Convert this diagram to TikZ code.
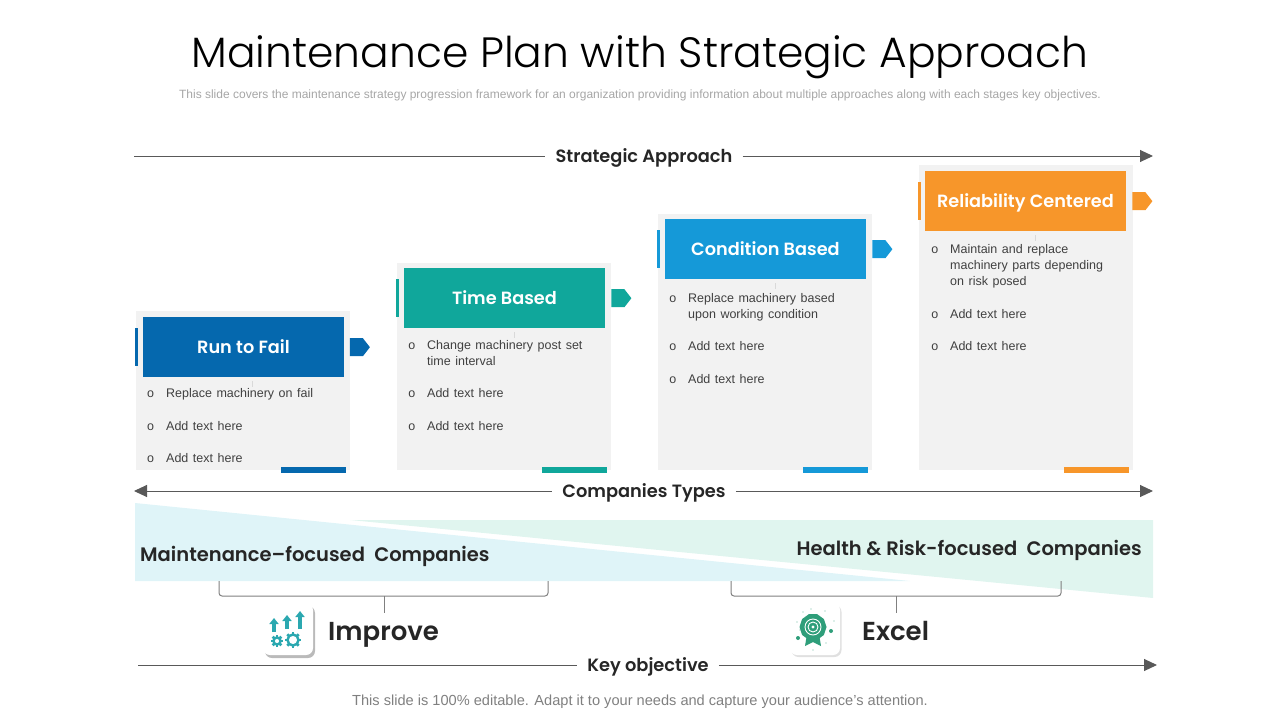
\documentclass[tikz,border=0pt]{standalone}
\usepackage{fontspec}
\setmainfont{Liberation Sans}
\newfontfamily\itemfont[WordSpace=1.3]{Liberation Sans}
\newfontfamily\headfont[BoldFont={Poppins SemiBold}]{Poppins Light}
\usetikzlibrary{positioning,arrows.meta,shapes.geometric,shadows}
\definecolor{runblue}{HTML}{0568AE}
\definecolor{timeteal}{HTML}{10A79B}
\definecolor{condblue}{HTML}{1599D8}
\definecolor{reliorange}{HTML}{F7962A}
\definecolor{panelgrey}{HTML}{F2F2F2}
\definecolor{bandblue}{HTML}{DFF4F8}
\definecolor{bandgreen}{HTML}{E0F5EF}
\definecolor{axisgrey}{HTML}{595959}
\definecolor{icongreen}{HTML}{2F9E7A}
\definecolor{iconteal}{HTML}{2BA8B0}
\newcommand{\bul}[1]{\strut\llap{o\hspace{12pt}}#1\strut}
\begin{document}
\begin{tikzpicture}[x=1pt,y=-1pt,
						panel/.style={fill=panelgrey,inner sep=0pt,minimum width=214pt,anchor=north west},
						headbox/.style={inner sep=0pt,minimum width=200.5pt,minimum height=60pt,text height=17pt,text depth=4pt,text=white,font=\headfont\bfseries\fontsize{17.7}{22}\selectfont},
						sidebar/.style={inner sep=0pt,minimum width=3pt,minimum height=38pt},
						tabbar/.style={inner sep=0pt,minimum width=65pt,minimum height=6pt},
						tick/.style={fill=black!15,inner sep=0pt,minimum width=1pt,minimum height=6pt},
						item/.style={inner sep=0pt,text width=165pt,align=flush left,text=black!75,font=\itemfont\fontsize{12.5}{16}\selectfont},
						axislabel/.style={fill=white,inner sep=0pt,inner xsep=10pt,anchor=base,text=black!85,font=\headfont\bfseries\fontsize{17.8}{22}\selectfont},
						axisline/.style={axisgrey,line width=1pt},
						axisarrow/.style={axisline,-{Triangle[length=13pt,width=12pt]}},
						bandtext/.style={inner sep=0pt,text=black!85,font=\headfont\bfseries\fontsize{19.5}{24}\selectfont},
						bracketline/.style={black!50,line width=1pt,rounded corners=3pt},
						objective/.style={inner sep=0pt,text=black!85,font=\headfont\bfseries\fontsize{26}{32}\selectfont},
						iconbox/.style={fill=white,rounded corners=7pt,inner sep=0pt,minimum width=50pt,minimum height=52pt},
						pointer/.pic={\path[pic actions] (0,-9) -- (13,-9) -- (20,0) -- (13,9) -- (0,9) -- cycle;},
						gear/.pic={\draw[iconteal,line width=2.4pt] (0,0) circle (#1);
							\foreach \a in {0,45,...,315} {\fill[iconteal,rotate=\a] (-1.4,#1) rectangle (1.4,#1+2.6);}},
						]
		\useasboundingbox (0,0) rectangle (1280,720);

		\node[anchor=base,font=\headfont\fontsize{42.4}{52}\selectfont]	(title)	at (640,67)	{Maintenance Plan with Strategic Approach};
		\node[text=black!35,font=\fontsize{12}{15}\selectfont]	(subtitle)	at (640,95)	{This slide covers the maintenance strategy progression framework for an organization providing information about multiple approaches along with each stages key objectives.};

		\coordinate (sa-start) at (134,156);
		\coordinate (sa-end) at (1153,156);
		\node[axislabel] (sa-label) at (644,162) {Strategic Approach};
		\draw[axisline] (sa-start) -- (sa-start -| sa-label.west);
		\draw[axisarrow] (sa-start -| sa-label.east) -- (sa-end);

		\node[panel,minimum height=159pt]	(panelA)	at (136,311)	{};
		\node[panel,minimum height=207pt]	(panelB)	at (397,263)	{};
		\node[panel,minimum height=256pt]	(panelC)	at (658,214)	{};
		\node[panel,minimum height=305pt]	(panelD)	at (919,165)	{};

		\node[headbox,fill=runblue,below right=6pt and 7pt of panelA.north west,anchor=north west]		(headA)	{Run to Fail};
		\node[headbox,fill=timeteal,below right=5pt and 7pt of panelB.north west,anchor=north west]		(headB)	{Time Based};
		\node[headbox,fill=condblue,below right=5pt and 7pt of panelC.north west,anchor=north west]		(headC)	{Condition Based};
		\node[headbox,fill=reliorange,below right=6pt and 6pt of panelD.north west,anchor=north west]	(headD)	{Reliability Centered};

		\node[sidebar,fill=runblue,left=4.5pt of headA]		(sideA)	{};
		\node[sidebar,fill=timeteal,left=4.5pt of headB]	(sideB)	{};
		\node[sidebar,fill=condblue,left=4.5pt of headC]	(sideC)	{};
		\node[sidebar,fill=reliorange,left=3.5pt of headD]	(sideD)	{};

		\pic[fill=runblue] at ([xshift=6pt]headA.east) {pointer};
		\pic[fill=timeteal] at ([xshift=6.5pt]headB.east) {pointer};
		\pic[fill=condblue] at ([xshift=6.5pt]headC.east) {pointer};
		\pic[fill=reliorange] at ([xshift=6.5pt]headD.east) {pointer};

		\node[tabbar,fill=runblue]		(tabA)	at ([xshift=-36.5pt]panelA.south east)	{};
		\node[tabbar,fill=timeteal]		(tabB)	at ([xshift=-36.5pt]panelB.south east)	{};
		\node[tabbar,fill=condblue]		(tabC)	at ([xshift=-36.5pt]panelC.south east)	{};
		\node[tabbar,fill=reliorange]	(tabD)	at ([xshift=-36.5pt]panelD.south east)	{};

		\node[tick,below=3pt of headA.south,xshift=9.5pt]	(tickA)	{};
		\node[tick,below=3pt of headB.south,xshift=10pt]	(tickB)	{};
		\node[tick,below=3pt of headC.south,xshift=10pt]	(tickC)	{};
		\node[tick,below=3pt of headD.south,xshift=10.5pt]	(tickD)	{};

		\node[item,below right=9pt and 23pt of headA.south west,anchor=north west]	(itemA1)	{\bul{Replace machinery on fail}};
		\node[item,below=16pt of itemA1.south west,anchor=north west]				(itemA2)	{\bul{Add text here}};
		\node[item,below=16pt of itemA2.south west,anchor=north west]				(itemA3)	{\bul{Add text here}};

		\node[item,below right=9.5pt and 23pt of headB.south west,anchor=north west]	(itemB1)	{\bul{Change machinery post set time interval}};
		\node[item,below=16pt of itemB1.south west,anchor=north west]				(itemB2)	{\bul{Add text here}};
		\node[item,below=16pt of itemB2.south west,anchor=north west]				(itemB3)	{\bul{Add text here}};

		\node[item,below right=11.5pt and 23pt of headC.south west,anchor=north west]	(itemC1)	{\bul{Replace machinery based upon working condition}};
		\node[item,below=16pt of itemC1.south west,anchor=north west]				(itemC2)	{\bul{Add text here}};
		\node[item,below=16pt of itemC2.south west,anchor=north west]				(itemC3)	{\bul{Add text here}};

		\node[item,below right=11pt and 25pt of headD.south west,anchor=north west]	(itemD1)	{\bul{Maintain and replace machinery parts depending on risk posed}};
		\node[item,below=16pt of itemD1.south west,anchor=north west]				(itemD2)	{\bul{Add text here}};
		\node[item,below=16pt of itemD2.south west,anchor=north west]				(itemD3)	{\bul{Add text here}};

		\coordinate (ct-start) at (134,491);
		\coordinate (ct-end) at (1153,491);
		\node[axislabel] (ct-label) at (644,497) {Companies Types};
		\draw[axisline,{Triangle[length=13pt,width=12pt]}-] (ct-start) -- (ct-start -| ct-label.west);
		\draw[axisarrow] (ct-start -| ct-label.east) -- (ct-end);

		\fill[bandgreen] (350,520) -- (1153,520) -- (1153,598) -- cycle;
		\fill[bandblue] (135,503) -- (910,581) -- (135,581) -- cycle;

		\node[bandtext,anchor=base west]	(maint)		at (140,561)	{Maintenance–focused\ \ Companies};
		\node[bandtext,anchor=base east]	(health)	at (1142,555)	{Health\ \& Risk-focused\ \ Companies};

		\node[objective,anchor=base west]	(improve)	at (328,640)	{Improve};
		\node[objective,anchor=base west]	(excel)		at (862,640)	{Excel};

		\coordinate (brA-left) at (219,581);
		\coordinate (brA-right) at (548,581);
		\coordinate (brA-mid) at (384,596);
		\coordinate (brB-left) at (731,581);
		\coordinate (brB-right) at (1061,581);
		\coordinate (brB-mid) at (896,596);
		\draw[bracketline] (brA-left) |- (brA-mid) -| (brA-right);
		\draw[bracketline] (brB-left) |- (brB-mid) -| (brB-right);
		\draw[black!50,line width=1pt] (brA-mid) -- ++(0,17);
		\draw[black!50,line width=1pt] (brB-mid) -- ++(0,17);

		\node[iconbox,drop shadow={shadow xshift=2pt,shadow yshift=-3pt,opacity=.45,fill=black!60}]	(iconA)	at (288,629)	{};
		\draw[iconteal,line width=3.4pt,-{Triangle[length=6pt,width=9pt]}] (274,632) -- (274,618);
		\draw[iconteal,line width=3.4pt,-{Triangle[length=6pt,width=9pt]}] (287,629) -- (287,615);
		\draw[iconteal,line width=3.4pt,-{Triangle[length=6pt,width=9pt]}] (300,629) -- (300,611);
		\pic at (277,641) {gear=3.5};
		\pic at (293,640) {gear=5.5};

		\node[iconbox,drop shadow={shadow xshift=1.5pt,shadow yshift=-2pt,opacity=.2,fill=black!60}]	(iconB)	at (815,629)	{};
		\fill[icongreen] (807,634) -- (805,646) -- (813,642) -- (821,646) -- (819,634) -- cycle;
		\node[regular polygon,regular polygon sides=10,fill=icongreen,inner sep=0pt,minimum size=27pt] (badge) at (813,627) {};
		\draw[white,line width=.9pt] (badge.center) circle (8);
		\draw[white,line width=.9pt] (badge.center) circle (5);
		\fill[white] (badge.center) circle (1.6);
		\fill[icongreen] (798,638) circle (2);
		\fill[icongreen] (831,631) circle (2);
		\foreach \dotx/\doty in {797/622,803/612,811/609,825/611,834/621,826/643,813/650,800/630} {
			\fill[icongreen!70] (\dotx,\doty) circle (.6);
		}

		\coordinate (ko-start) at (138,665);
		\coordinate (ko-end) at (1157,665);
		\node[axislabel] (ko-label) at (648,671) {Key objective};
		\draw[axisline] (ko-start) -- (ko-start -| ko-label.west);
		\draw[axisarrow] (ko-start -| ko-label.east) -- (ko-end);

		\node[text=black!50,font=\fontsize{14.6}{17}\selectfont]	(footer)	at (640,702)	{This slide is 100\% editable. Adapt it to your needs and capture your audience's attention.};
	\end{tikzpicture}
\end{document}
